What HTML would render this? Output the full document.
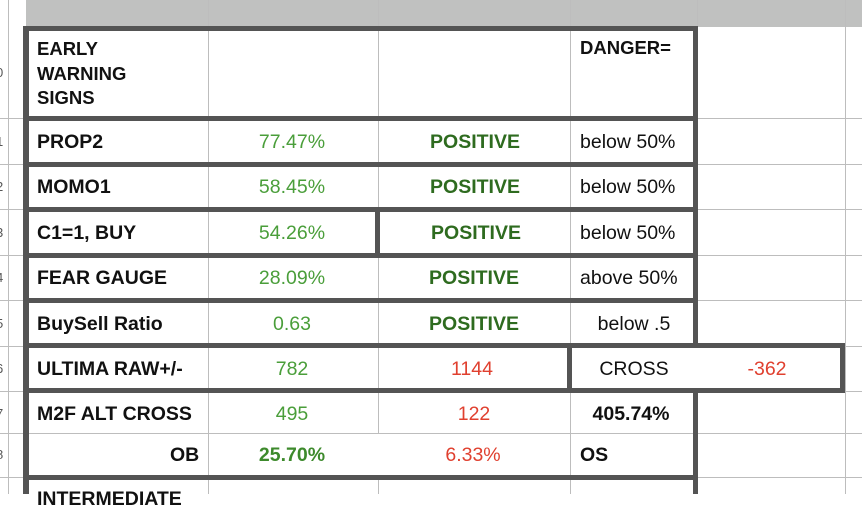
<!DOCTYPE html>
<html><head><meta charset="utf-8"><style>
body{margin:0;width:862px;height:494px;overflow:hidden;background:#fff;font-family:"Liberation Sans",Arial,sans-serif;position:relative}
div{position:absolute;box-sizing:border-box}
.t{font-size:19.5px;white-space:nowrap;line-height:22px;margin-top:-1px}
.b{font-weight:bold;color:#111}
.g{color:#4a9e3a}
.dg{color:#2e6b1f;font-weight:bold}
.r{color:#e0402f}
.k{color:#111}
.tk{background:#545454}
.vl{background:#bdbdbd;width:1px}
.hl{background:#bdbdbd;height:1px}
.c{transform:translateX(-50%)}
.rn{font-size:13px;color:#555;left:-4px}
</style></head><body>
<div style="left:26px;top:0;width:836px;height:27px;background:#c0c1c0"></div>
<div class="vl" style="left:208px;top:0;height:494px"></div>
<div class="vl" style="left:378px;top:0;height:494px"></div>
<div class="vl" style="left:570px;top:0;height:494px"></div>
<div class="vl" style="left:697px;top:0;height:494px"></div>
<div class="vl" style="left:845px;top:0;height:494px"></div>
<div class="vl" style="left:8px;top:0;height:494px"></div>
<div class="hl" style="left:0;top:118px;width:862px"></div>
<div class="hl" style="left:0;top:164px;width:862px"></div>
<div class="hl" style="left:0;top:209px;width:862px"></div>
<div class="hl" style="left:0;top:255px;width:862px"></div>
<div class="hl" style="left:0;top:300px;width:862px"></div>
<div class="hl" style="left:0;top:346px;width:862px"></div>
<div class="hl" style="left:0;top:391px;width:862px"></div>
<div class="hl" style="left:0;top:433px;width:862px"></div>
<div class="hl" style="left:0;top:477px;width:862px"></div>
<div style="left:209px;top:434px;width:360px;height:41px;background:#fff"></div>
<div style="left:28px;top:434px;width:180px;height:41px;background:#fff"></div>
<div style="left:28px;top:30px;width:180px;height:86px;background:#fff"></div>
<div style="left:209px;top:30px;width:484px;height:86px;background:#fff"></div>
<div class="vl" style="left:208px;top:30px;height:86px"></div>
<div class="vl" style="left:378px;top:30px;height:86px"></div>
<div class="vl" style="left:570px;top:30px;height:86px"></div>
<div class="vl" style="left:570px;top:433px;height:44px"></div>
<div class="rn" style="top:65px">0</div><div class="rn" style="top:134px">1</div><div class="rn" style="top:179px">2</div><div class="rn" style="top:225px">3</div><div class="rn" style="top:270px">4</div><div class="rn" style="top:316px">5</div><div class="rn" style="top:361px">6</div><div class="rn" style="top:406px">7</div><div class="rn" style="top:447px">8</div>
<div class="tk" style="left:23px;top:26px;width:675px;height:5px"></div>
<div class="tk" style="left:23px;top:26px;width:6px;height:468px"></div>
<div class="tk" style="left:693px;top:26px;width:5px;height:468px"></div>
<div class="tk" style="left:23px;top:116px;width:675px;height:5px"></div>
<div class="tk" style="left:23px;top:162px;width:675px;height:5px"></div>
<div class="tk" style="left:23px;top:207px;width:675px;height:5px"></div>
<div class="tk" style="left:23px;top:253px;width:675px;height:5px"></div>
<div class="tk" style="left:375px;top:207px;width:5px;height:51px"></div>
<div class="tk" style="left:23px;top:298px;width:675px;height:5px"></div>
<div class="tk" style="left:23px;top:343px;width:822px;height:5px"></div>
<div class="tk" style="left:23px;top:388px;width:822px;height:5px"></div>
<div class="tk" style="left:840px;top:343px;width:5px;height:50px"></div>
<div class="tk" style="left:567px;top:343px;width:5px;height:50px"></div>
<div style="left:698px;top:348px;width:142px;height:40px;background:#fff"></div>
<div style="left:572px;top:348px;width:268px;height:40px;background:#fff"></div>
<div class="tk" style="left:23px;top:475px;width:675px;height:5px"></div>
<div class="t b" style="left:37px;top:38px;line-height:24.5px;font-size:18.5px">EARLY<br>WARNING<br>SIGNS</div>
<div class="t b" style="left:580px;top:38px;font-size:18.5px">DANGER=</div>
<div class="t b" style="left:37px;top:132px">PROP2</div>
<div class="t g c" style="left:292px;top:132px">77.47%</div>
<div class="t dg c" style="left:475px;top:132px">POSITIVE</div>
<div class="t k" style="left:580px;top:132px">below 50%</div>
<div class="t b" style="left:37px;top:177px">MOMO1</div>
<div class="t g c" style="left:292px;top:177px">58.45%</div>
<div class="t dg c" style="left:475px;top:177px">POSITIVE</div>
<div class="t k" style="left:580px;top:177px">below 50%</div>
<div class="t b" style="left:37px;top:223px">C1=1, BUY</div>
<div class="t g c" style="left:292px;top:223px">54.26%</div>
<div class="t dg c" style="left:476px;top:223px">POSITIVE</div>
<div class="t k" style="left:580px;top:223px">below 50%</div>
<div class="t b" style="left:37px;top:268px">FEAR GAUGE</div>
<div class="t g c" style="left:292px;top:268px">28.09%</div>
<div class="t dg c" style="left:474px;top:268px">POSITIVE</div>
<div class="t k" style="left:580px;top:268px">above 50%</div>
<div class="t b" style="left:37px;top:314px">BuySell Ratio</div>
<div class="t g c" style="left:292px;top:314px">0.63</div>
<div class="t dg c" style="left:474px;top:314px">POSITIVE</div>
<div class="t k c" style="left:634px;top:314px">below .5</div>
<div class="t b" style="left:37px;top:359px">ULTIMA RAW+/-</div>
<div class="t g c" style="left:292px;top:359px">782</div>
<div class="t r c" style="left:472px;top:359px">1144</div>
<div class="t k c" style="left:634px;top:359px">CROSS</div>
<div class="t r c" style="left:767px;top:359px">-362</div>
<div class="t b" style="left:37px;top:404px">M2F ALT CROSS</div>
<div class="t g c" style="left:292px;top:404px">495</div>
<div class="t r c" style="left:474px;top:404px">122</div>
<div class="t b c" style="left:631px;top:404px">405.74%</div>
<div class="t b" style="left:170px;top:445px">OB</div>
<div class="t dg c" style="left:292px;top:445px;color:#3d8a2c">25.70%</div>
<div class="t r c" style="left:473px;top:445px">6.33%</div>
<div class="t b" style="left:580px;top:445px">OS</div>
<div class="t b" style="left:37px;top:489px">INTERMEDIATE</div>
</body></html>
